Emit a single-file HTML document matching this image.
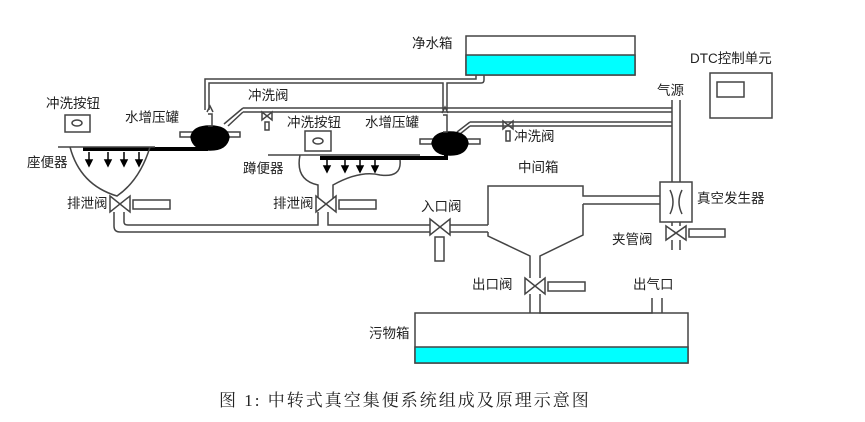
<!DOCTYPE html>
<html><head><meta charset="utf-8"><style>
html,body{margin:0;padding:0;background:#fff}
svg{display:block}
text{font-family:"Liberation Sans","Noto Sans CJK SC",sans-serif;font-size:13.5px;fill:#222}
</style></head><body>
<svg width="865" height="422" viewBox="0 0 865 422" xmlns="http://www.w3.org/2000/svg">
<g fill="none" stroke="#444" stroke-width="1.5">
<!-- clean water tank -->
<rect x="466" y="36" width="169" height="39" fill="#fff"/>
<rect x="466" y="55" width="169" height="20" fill="#00ffff"/>
<!-- water pipe from tank -->
<path d="M205 110 V79 H476 V75"/>
<path d="M209 110 V83 H443 V110 M447 110 V83 H481 Q484 83 484 80 V75"/>
<!-- air lines -->
<path d="M243 108 H672 M243 112 H672 M243 108 L224 124 M243 112 L228 126"/>
<path d="M470 122 H672 M470 126 H672 M470 122 L457 132 M470 126 L460 134"/>
<path d="M672 100 V183 M680 100 V183"/>
<!-- flush valves -->
<path d="M262 112 L272 120 L272 112 L262 120 Z M265 122 h4 v8 h-4 z"/>
<path d="M503 121 L513 129 L513 121 L503 129 Z M506 131 h4 v10 h-4 z"/>
<!-- tank1 -->
<path d="M180 132 h60 v5 h-60 z" fill="#fff"/>
<path d="M191 137 Q193 126 210 126 Q227 126 229 137 Q227 150 210 150 Q193 150 191 137 Z" fill="#000" stroke="#000"/>
<path d="M207 112 L210 106 L213 112 M208 114 h4 v12 h-4"/>
<!-- tank2 -->
<path d="M420 139 h60 v5 h-60 z" fill="#fff"/>
<path d="M432 143 Q434 132 450 132 Q466 132 468 143 Q466 155 450 155 Q434 155 432 143 Z" fill="#000" stroke="#000"/>
<path d="M442 113 L445 107 L448 113 M443 115 h4 v17 h-4"/>
<!-- black pipes -->
<path d="M83 149 H206 V145" stroke="#000" stroke-width="4"/>
<path d="M320 158 H446 V150" stroke="#000" stroke-width="4"/>
<!-- toilet seat -->
<path d="M58 147 H155 M70 147 Q80 185 117 196 Q140 180 150 147"/>
<!-- squat toilet -->
<path d="M268 155 H420 M300 155 Q295 180 318 185 V198 M333 198 V185 Q360 170 380 175 Q402 178 400 160"/>
<!-- arrows -->
<g fill="#000" stroke="#000"><path d="M89 152 V162 M108 152 V162 M124 152 V162 M139 152 V162 M327 160 V168 M345 160 V168 M360 160 V168 M375 160 V168"/>
<path d="M86 160 L89 166 L92 160 Z M105 160 L108 166 L111 160Z M121 160 L124 166 L127 160Z M136 160 L139 166 L142 160Z M324 166 L327 172 L330 166Z M342 166 L345 172 L348 166Z M357 166 L360 172 L363 166Z M372 166 L375 172 L378 166Z"/></g>
<!-- flush buttons -->
<rect x="65" y="115" width="25" height="17"/><ellipse cx="77" cy="123" rx="5" ry="3"/>
<rect x="305" y="131" width="26" height="20"/><ellipse cx="318" cy="141" rx="5" ry="3"/>
<!-- drain valves -->
<path d="M110 196 L130 212 L130 196 L110 212 Z" fill="#fff"/><rect x="133" y="200" width="37" height="9"/>
<path d="M316 196 L336 212 L336 196 L316 212 Z" fill="#fff"/><rect x="339" y="200" width="37" height="9"/>
<!-- drain pipe -->
<path d="M114 212 V226 Q114 232 120 232 H430 M124 212 V222 Q124 225 128 225 H318 V212 M328 212 V225 H430"/>
<!-- inlet valve -->
<path d="M430 219 L450 235 L450 219 L430 235 Z" fill="#fff"/><rect x="435" y="237" width="9" height="24"/>
<path d="M450 225 H488 M450 232 H488"/>
<!-- intermediate box -->
<path d="M488 225 V186 H583 V196 H660 M583 204 H660 M583 204 V235 L540 256 V278 M488 232 V236 L530 256 V278"/>
<path d="M525 278 L545 294 L545 278 L525 294 Z" fill="#fff"/><rect x="548" y="282" width="37" height="9"/>
<path d="M530 294 V313 M540 294 V313 H652 V298 M662 298 V313"/>
<!-- sewage tank -->
<rect x="415" y="313" width="273" height="50"/>
<rect x="415" y="347" width="273" height="16" fill="#00ffff"/>
<!-- vacuum generator -->
<rect x="660" y="182" width="32" height="40" fill="#fff"/>
<path d="M670 190 Q676 202 670 214 M682 190 Q676 202 682 214"/>
<path d="M672 222 V226 M680 222 V226 M666 226 L686 240 L686 226 L666 240 Z" fill="#fff"/>
<rect x="689" y="229" width="36" height="8"/>
<path d="M672 240 V250 M680 240 V250"/>
<!-- DTC -->
<rect x="710" y="73" width="62" height="45"/><rect x="717" y="82" width="27" height="15"/>
</g>
<text x="412" y="48">净水箱</text>
<text x="690" y="63">DTC控制单元</text>
<text x="657" y="95">气源</text>
<text x="46" y="108">冲洗按钮</text>
<text x="125" y="122">水增压罐</text>
<text x="248" y="100">冲洗阀</text>
<text x="287" y="127">冲洗按钮</text>
<text x="365" y="127">水增压罐</text>
<text x="514" y="141">冲洗阀</text>
<text x="27" y="167">座便器</text>
<text x="243" y="173">蹲便器</text>
<text x="518" y="172">中间箱</text>
<text x="697" y="203">真空发生器</text>
<text x="67" y="208">排泄阀</text>
<text x="273" y="208">排泄阀</text>
<text x="421" y="211">入口阀</text>
<text x="612" y="244">夹管阀</text>
<text x="472" y="289">出口阀</text>
<text x="633" y="289">出气口</text>
<text x="369" y="338">污物箱</text>
<text x="219" y="406" style="font-family:'Liberation Serif','Noto Serif CJK SC',serif;font-size:17px;letter-spacing:2px">图 1: 中转式真空集便系统组成及原理示意图</text>
</svg>
</body></html>
